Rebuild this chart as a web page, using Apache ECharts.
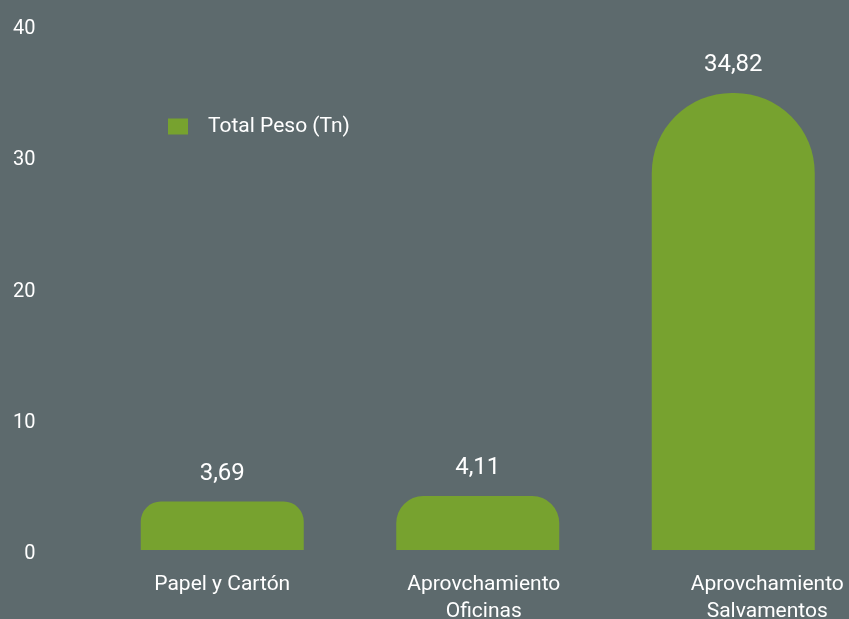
<!DOCTYPE html>
<html>
<head>
<meta charset="utf-8">
<script src="https://cdn.jsdelivr.net/npm/echarts@6/dist/echarts.min.js"></script>
<style>
html,body{margin:0;padding:0;background:#5d6a6d;}
#chart{width:849px;height:619px;}
</style>
</head>
<body>
<div id="chart"></div>
<script>
const categories = ['Papel y Cartón', 'Aprovchamiento\nOficinas', 'Aprovchamiento\nSalvamentos'];
const seriesName = 'Total Peso (Tn)';
const values = [3.69, 4.11, 34.82];
const yTicks = [0, 10, 20, 30, 40];

const radii = [20, 27, 80];
const labelPads = [[0, 0, 0, 0], [0, 0, 0, 12], [0, 0, 0, 68]];

const chart = echarts.init(document.getElementById('chart'));
chart.setOption({
  backgroundColor: '#5d6a6d',
  animation: false,
  textStyle: { fontFamily: 'Roboto' },
  legend: {
    left: 163, top: 111,
    itemWidth: 20, itemHeight: 16,
    icon: 'rect',
    textStyle: { color: '#ffffff', fontSize: 21, fontFamily: 'Roboto', padding: [0, 0, 0, 15] },
    data: [seriesName]
  },
  grid: { left: 94.5, width: 766.5, top: 25, height: 525, containLabel: false, outerBoundsMode: 'none' },
  xAxis: {
    type: 'category',
    data: categories.map((c, i) => ({ value: c, textStyle: { padding: labelPads[i] } })),
    axisLine: { show: false },
    axisTick: { show: false },
    splitLine: { show: false },
    axisLabel: { color: '#ffffff', fontSize: 21, fontFamily: 'Roboto', lineHeight: 27, margin: 21, interval: 0 }
  },
  yAxis: {
    type: 'value',
    min: yTicks[0], max: yTicks[yTicks.length - 1], interval: 10,
    axisLine: { show: false },
    axisTick: { show: false },
    splitLine: { show: false },
    axisLabel: { color: '#ffffff', fontSize: 20, fontFamily: 'Roboto', margin: 59, align: 'right', verticalAlign: 'top', lineHeight: 8 }
  },
  series: [{
    name: seriesName,
    type: 'bar',
    barWidth: 163,
    data: values.map((v, i) => ({ value: v, itemStyle: { borderRadius: [radii[i], radii[i], 0, 0] } })),
    itemStyle: { color: '#77a22f' },
    label: {
      show: true, position: 'top', distance: 16,
      color: '#ffffff', fontSize: 24, fontFamily: 'Roboto',
      formatter: p => p.value.toFixed(2).replace('.', ',')
    }
  }]
});
</script>
</body>
</html>
